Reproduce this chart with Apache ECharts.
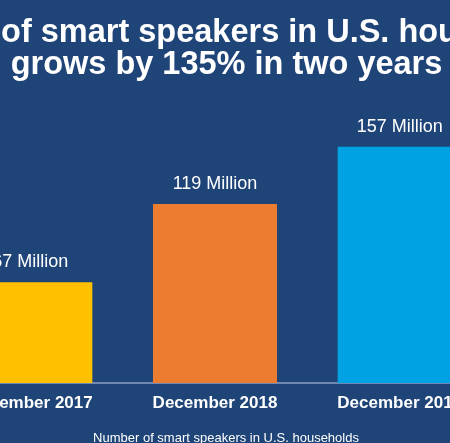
<!DOCTYPE html>
<html>
<head>
<meta charset="utf-8">
<script src="https://cdn.jsdelivr.net/npm/echarts@6/dist/echarts.min.js"></script>
<style>
html,body{margin:0;padding:0;background:#1f4478;overflow:hidden;width:450px;height:443px;position:relative;}
#chart{position:absolute;left:-80px;top:0;width:610px;height:443px;}
</style>
</head>
<body>
<div id="chart"></div>
<script>
const categories = ['December 2017', 'December 2018', 'December 2019'];
const values = [67, 119, 157];
const barColors = ['#FFC000', '#EC7C30', '#00A2E3'];
const titleLine1 = 'Number of smart speakers in U.S. households';
const titleLine2 = 'grows by 135% in two years';
const footerText = 'Number of smart speakers in U.S. households';

const OFFSET = 80; // chart div starts 80px left of the visible window
const titleStyle = {
  color: '#ffffff',
  fontFamily: 'Liberation Sans, Arial, sans-serif',
  fontWeight: 'bold',
  fontSize: 32.5,
  lineHeight: 32
};
const chart = echarts.init(document.getElementById('chart'), null, {renderer: 'canvas'});
chart.setOption({
  backgroundColor: '#1f4478',
  animation: false,
  title: [{
    text: titleLine1,
    left: 225 + OFFSET,
    top: 17,
    padding: 0,
    textAlign: 'center',
    textStyle: titleStyle
  }, {
    text: titleLine2,
    left: 226.5 + OFFSET,
    top: 49,
    padding: 0,
    textAlign: 'center',
    textStyle: titleStyle
  }, {
    text: footerText,
    left: 221 + OFFSET,
    top: 427,
    textAlign: 'center',
    textStyle: {
      color: '#ffffff',
      fontFamily: 'Liberation Sans, Arial, sans-serif',
      fontWeight: 'normal',
      fontSize: 13,
      lineHeight: 13
    }
  }],
  grid: {left: OFFSET - 62, width: 554, top: 82, bottom: 60, containLabel: false},
  xAxis: {
    type: 'category',
    data: categories,
    axisTick: {show: false},
    axisLine: {show: true, lineStyle: {color: '#7088b2', width: 2}},
    axisLabel: {
      color: '#ffffff',
      fontFamily: 'Liberation Sans, Arial, sans-serif',
      fontWeight: 'bold',
      fontSize: 17,
      margin: 12,
      interval: 0
    }
  },
  yAxis: {
    type: 'value',
    min: 0,
    max: 200,
    show: false,
    splitLine: {show: false}
  },
  series: [{
    type: 'bar',
    barWidth: 124,
    data: values.map((v, i) => ({value: v, itemStyle: {color: barColors[i]}})),
    label: {
      show: true,
      position: 'top',
      distance: 11,
      color: '#ffffff',
      fontFamily: 'Liberation Sans, Arial, sans-serif',
      fontSize: 18,
      formatter: p => p.value + ' Million'
    }
  }]
});
</script>
</body>
</html>
